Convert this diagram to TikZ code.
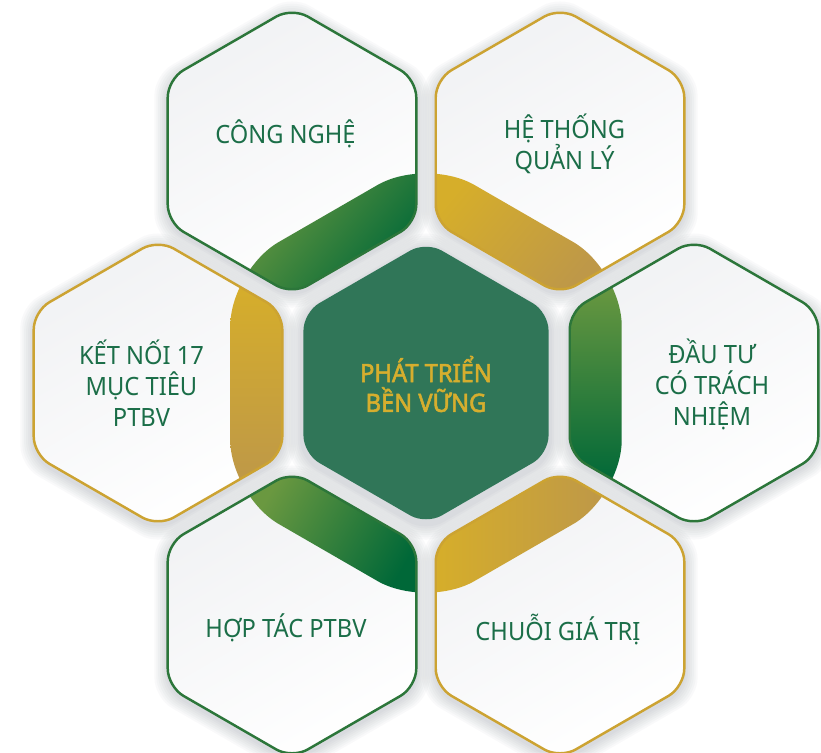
\documentclass[tikz,border=0pt]{standalone}
\usepackage{fontspec}
\setmainfont[FakeStretch=0.94, AutoFakeBold=2.2]{Noto Sans}

\definecolor{txtgreen}{RGB}{27,110,72}
\definecolor{hubgreen}{RGB}{48,118,88}
\definecolor{hubgold}{RGB}{214,174,46}
\definecolor{olive}{RGB}{106,152,64}
\definecolor{deepgreen}{RGB}{0,104,56}
\definecolor{brightgold}{RGB}{214,174,42}
\definecolor{dullgold}{RGB}{190,152,72}
\definecolor{rimgreen}{RGB}{44,118,58}
\definecolor{rimgold}{RGB}{204,163,50}
\definecolor{paper}{RGB}{241,242,244}
\definecolor{shadowgray}{RGB}{60,70,90}

\newcommand\hexat[3]{[shift={(#1,#2)}] (0:{0.866*(#3)}) -- (30:{#3}) -- (90:{#3}) -- (150:{#3}) -- (210:{#3}) -- (270:{#3}) -- (330:{#3}) -- cycle}

\tikzset{
  hexlabel/.style={text=txtgreen, align=center, font=\fontsize{7.17}{8.8}\selectfont},
  hublabel/.style={text=hubgold, align=center, font=\bfseries\fontsize{7.17}{8.5}\selectfont},
}

\begin{document}
\begin{tikzpicture}
\useasboundingbox[fill=white] (-4.26,-3.69) rectangle (3.95,3.83);

\foreach \x/\y in {0/0,-1.34/2.32,1.34/2.32,2.68/0,1.34/-2.32,-1.34/-2.32,-2.68/0}
  \foreach \k in {1,...,7}
    \fill[shadowgray, opacity=0.028, rounded corners=2mm] \hexat{\x}{\y-0.035}{1.435+0.022*\k};

\foreach \x/\y in {-1.34/2.32,1.34/2.32,2.68/0,1.34/-2.32,-1.34/-2.32,-2.68/0}
  \shade[top color=paper, bottom color=white, shading angle=30, rounded corners=1.8mm] \hexat{\x}{\y}{1.435};

\foreach \x/\y/\ca/\cb/\ang/\xa/\ya/\xb/\yb in {
  -1.34/2.32/olive/deepgreen/50/-1.78/0.9/-0.08/2.15,
  1.34/2.32/brightgold/dullgold/50/0.08/0.9/1.78/2.15,
  2.68/0/olive/deepgreen/0/1.40/-1.0/2.0/1.0,
  1.34/-2.32/brightgold/dullgold/90/0.08/-2.15/1.78/-0.9,
  -1.34/-2.32/olive/deepgreen/60/-1.78/-2.15/-0.08/-0.9,
  -2.68/0/brightgold/dullgold/0/-2.0/-1.0/-1.40/1.0}
{
  \begin{scope}
    \clip[rounded corners=1.8mm] \hexat{\x}{\y}{1.435};
    \clip[rounded corners=5.6mm] \hexat{0}{0}{2.26};
    \shade[top color=\ca, bottom color=\cb, shading angle=\ang] (\xa,\ya) rectangle (\xb,\yb);
  \end{scope}
}

\foreach \x/\y/\rim in {-1.34/2.32/rimgreen,1.34/2.32/rimgold,2.68/0/rimgreen,1.34/-2.32/rimgold,-1.34/-2.32/rimgreen,-2.68/0/rimgold}
  \draw[draw=\rim, line width=0.7pt, rounded corners=1.8mm] \hexat{\x}{\y}{1.435};

\fill[hubgreen, rounded corners=1.8mm] \hexat{0}{0}{1.415};

\node[hublabel] (hub) at (0,-0.01) {PHÁT TRIỂN\\BỀN VỮNG};
\node[hexlabel] (tech) at (-1.405,2.49) {CÔNG NGHỆ};
\node[hexlabel] (mgmt) at (1.385,2.39) {HỆ THỐNG\\QUẢN LÝ};
\node[hexlabel] (invest) at (2.86,-0.01) {ĐẦU TƯ\\CÓ TRÁCH\\NHIỆM};
\node[hexlabel] (chain) at (1.32,-2.46) {CHUỖI GIÁ TRỊ};
\node[hexlabel] (coop) at (-1.40,-2.45) {HỢP TÁC PTBV};
\node[hexlabel] (sdg) at (-2.845,0) {KẾT NỐI 17\\MỤC TIÊU\\PTBV};
\end{tikzpicture}
\end{document}
